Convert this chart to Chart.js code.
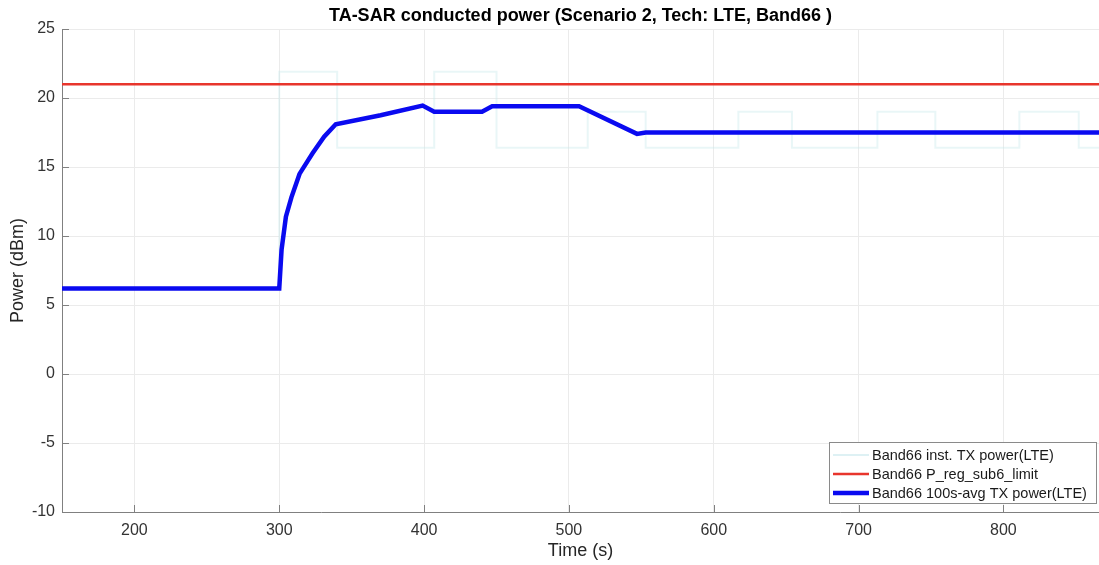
<!DOCTYPE html>
<html><head><meta charset="utf-8">
<script src="https://cdn.jsdelivr.net/npm/chart.js@4/dist/chart.umd.min.js"></script>
<style>html,body{margin:0;padding:0;background:#fff;} #wrap{width:1099px;height:565px;position:relative}</style>
</head><body><div id="wrap"><canvas id="c"></canvas></div>
<script>
const titleText = 'TA-SAR conducted power (Scenario 2, Tech: LTE, Band66 )';
const xTitle = 'Time (s)';
const yTitle = 'Power (dBm)';
const seriesNames = ['Band66 inst. TX power(LTE)', 'Band66 P_reg_sub6_limit', 'Band66 100s-avg TX power(LTE)'];
const xTickValues = [200, 300, 400, 500, 600, 700, 800];
const yTickValues = [-10, -5, 0, 5, 10, 15, 20, 25];
const instTimes = [150, 300, 340, 407, 450, 513, 553, 617, 654, 713, 753, 811, 852, 866];
const instPower = [6.2, 21.9, 16.4, 21.9, 16.4, 19.0, 16.4, 19.0, 16.4, 19.0, 16.4, 19.0, 16.4, 16.4];
const limitTimes = [150, 866];
const limitPower = [21, 21];
const avgTimes = [150, 300, 301.6, 304.6, 308.4, 314, 320, 323, 331, 339, 370, 399, 407, 440, 447, 507, 547, 553, 866];
const avgPower = [6.2, 6.2, 9.0, 11.4, 12.8, 14.5, 15.5, 16.0, 17.2, 18.1, 18.75, 19.45, 19.0, 19.0, 19.4, 19.4, 17.4, 17.5, 17.5];

const FONT = "'Liberation Sans', Arial, Helvetica, sans-serif";
const colors = ['rgba(200,232,236,0.4)', '#e8352c', '#0a0af0'];
const widths = [2, 2.5, 4.5];

function pts(xs, ys) { return xs.map((x, i) => ({x: x, y: ys[i]})); }
function stepPts(xs, ys) {
  const out = [];
  for (let i = 0; i < xs.length - 1; i++) { out.push({x: xs[i], y: ys[i]}); out.push({x: xs[i + 1], y: ys[i]}); }
  return out;
}

const inwardTicks = {
  id: 'inwardTicks',
  afterDraw(chart) {
    const {ctx, chartArea: a, scales: {x, y}} = chart;
    ctx.save();
    ctx.strokeStyle = '#808080';
    ctx.lineWidth = 1;
    ctx.beginPath();
    xTickValues.forEach(v => { const px = Math.round(x.getPixelForValue(v)) + 0.5; ctx.moveTo(px, a.bottom); ctx.lineTo(px, a.bottom - 7); });
    yTickValues.forEach(v => { const py = Math.round(y.getPixelForValue(v)) + 0.5; ctx.moveTo(a.left, py); ctx.lineTo(a.left + 7, py); });
    ctx.stroke();
    ctx.font = 'bold 18px ' + FONT;
    ctx.fillStyle = '#000';
    ctx.textAlign = 'center';
    ctx.textBaseline = 'middle';
    ctx.fillText(titleText, (a.left + a.right) / 2, 16);
    ctx.restore();
  }
};

const boxLegend = {
  id: 'boxLegend',
  afterDraw(chart) {
    const ctx = chart.ctx;
    const L = 829, T = 442, R = 1096, B = 503;
    ctx.save();
    ctx.fillStyle = '#fff';
    ctx.fillRect(L, T, R - L, B - T);
    ctx.strokeStyle = '#8a8a8a';
    ctx.lineWidth = 1;
    ctx.strokeRect(L + 0.5, T + 0.5, R - L, B - T);
    const rows = [455, 474, 493];
    ctx.font = '14.5px ' + FONT;
    ctx.textBaseline = 'middle';
    ctx.fillStyle = '#1a1a1a';
    seriesNames.forEach((n, i) => {
      ctx.strokeStyle = i === 0 ? 'rgba(200,232,236,0.6)' : colors[i];
      ctx.lineWidth = widths[i];
      ctx.beginPath(); ctx.moveTo(833, rows[i]); ctx.lineTo(869, rows[i]); ctx.stroke();
      ctx.fillText(n, 872, rows[i] + 1);
    });
    ctx.restore();
  }
};

new Chart(document.getElementById('c'), {
  type: 'line',
  data: {
    datasets: [
      {label: seriesNames[0], data: stepPts(instTimes, instPower), borderColor: colors[0], borderWidth: widths[0], pointRadius: 0, fill: false, order: 3},
      {label: seriesNames[1], data: pts(limitTimes, limitPower), borderColor: colors[1], borderWidth: widths[1], pointRadius: 0, fill: false, order: 2},
      {label: seriesNames[2], data: pts(avgTimes, avgPower), borderColor: colors[2], borderWidth: widths[2], pointRadius: 0, fill: false, tension: 0, order: 1}
    ]
  },
  options: {
    responsive: true, maintainAspectRatio: false, animation: false,
    layout: {padding: {left: 0, right: 0, top: 29, bottom: 0}},
    plugins: {
      legend: {display: false}, tooltip: {enabled: false}, title: {display: false}
    },
    scales: {
      x: {
        type: 'linear', min: 150, max: 866,
        afterBuildTicks: s => { s.ticks = xTickValues.map(v => ({value: v})); },
        afterFit: s => { s.height = 53; },
        ticks: {color: '#333', font: {family: FONT, size: 16}, padding: 9, maxRotation: 0},
        grid: {color: '#ebebeb', drawTicks: false},
        border: {display: true, color: '#808080', width: 1},
        title: {display: true, text: xTitle, color: '#262626', font: {family: FONT, size: 18}, padding: {top: 0, bottom: 3}}
      },
      y: {
        type: 'linear', min: -10, max: 25,
        afterBuildTicks: s => { s.ticks = yTickValues.map(v => ({value: v})); },
        afterFit: s => { s.width = 62; },
        ticks: {color: '#333', font: {family: FONT, size: 16}, padding: 7},
        grid: {color: '#ebebeb', drawTicks: false},
        border: {display: true, color: '#808080', width: 1},
        title: {display: true, text: yTitle, color: '#262626', font: {family: FONT, size: 18}, padding: {top: 7, bottom: 0}}
      }
    }
  },
  plugins: [inwardTicks, boxLegend]
});
</script></body></html>
